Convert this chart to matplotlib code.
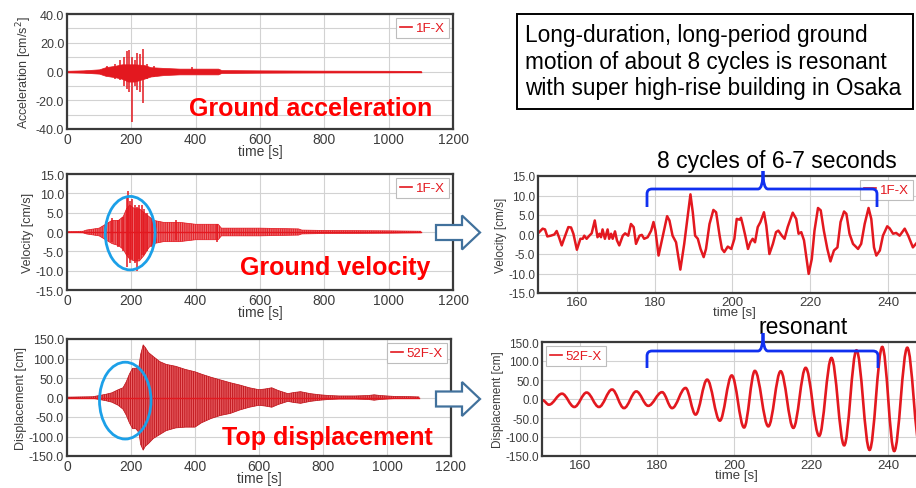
import matplotlib
matplotlib.use("Agg")
import matplotlib.pyplot as plt
from matplotlib.patches import Ellipse, Polygon, Rectangle, PathPatch
from matplotlib.path import Path
from matplotlib.ticker import MultipleLocator, FormatStrFormatter

plt.rcParams['font.family'] = ['Liberation Sans', 'DejaVu Sans']
plt.rcParams['hatch.linewidth'] = 0.6

# ---------------- data ----------------
# Ground acceleration envelope (1F-X)
acc_t  = [0, 50, 100, 120, 150, 170, 190, 210, 240, 260, 300, 350, 400, 470, 480, 600, 800, 1000, 1100]
acc_hi = [0.5, 0.8, 1.5, 3, 4, 5, 5, 5, 4.5, 3, 2.5, 2, 2, 2, 1, 0.8, 0.6, 0.5, 0.4]
acc_lo = [-0.5, -0.8, -1.5, -3, -4, -5, -7, -7, -5, -3.5, -2.5, -2, -2, -2, -1, -0.8, -0.6, -0.5, -0.4]
acc_spk_t  = [124, 150, 166, 178, 186, 194, 202, 212, 219, 228, 236, 248, 269, 388]
acc_spk_hi = [4, 5, 8, 10, 14, 15, 10, 8, 13, 12, 16, 5, 4, 3]
acc_spk_lo = [-3, -5, -6, -10, -12, -14, -35, -10, -13, -14, -22, -5, -4, -2]

# Ground velocity envelope (1F-X)
vel_t  = [0, 50, 60, 100, 120, 140, 160, 175, 185, 195, 210, 225, 240, 255, 270, 300, 350, 400, 450, 470, 480, 600, 720, 730, 800, 1000, 1100]
vel_hi = [0.1, 0.2, 0.5, 1, 2, 3, 3, 4, 6, 7, 6, 6, 5, 4, 3, 2.5, 2.5, 2, 2, 2, 1, 1, 0.8, 0.5, 0.4, 0.3, 0.2]
vel_lo = [-0.1, -0.2, -0.5, -1, -2, -3, -3.5, -4.5, -6, -7, -7.5, -7.5, -6, -4, -3, -2.5, -2.5, -2, -2, -2, -1, -1, -0.8, -0.5, -0.4, -0.3, -0.2]
vel_spk_t  = [140, 160, 175, 186, 189, 196, 202, 210, 217, 225, 233, 240, 248, 265, 340, 465]
vel_spk_hi = [3.5, 3, 4, 9, 10.5, 8, 8.5, 7, 6.5, 7, 7, 6, 5, 3.5, 3, 2]
vel_spk_lo = [-2.5, -4, -5, -9, -6, -8, -7, -8, -10, -7, -6, -6, -5, -4, -2, -2.5]

# Top displacement envelope (52F-X)
dis_t  = [0, 80, 100, 120, 140, 160, 175, 185, 195, 205, 215, 225, 230, 238, 245, 255, 270, 290, 310, 340, 370, 400,
          420, 450, 480, 510, 540, 570, 600, 620, 640, 660, 690, 710, 730, 760, 790, 820, 850, 900, 940, 960, 980,
          1020, 1060, 1100]
dis_hi = [1, 2, 5, 8, 12, 20, 25, 40, 60, 75, 75, 80, 110, 135, 128, 115, 105, 92, 85, 80, 72, 66,
          60, 52, 45, 38, 32, 25, 20, 22, 25, 18, 10, 13, 15, 10, 7, 5, 4, 4, 5, 7, 5,
          3, 2.5, 1.5]
dis_lo = [-1, -2, -5, -8, -12, -20, -30, -45, -65, -80, -80, -90, -120, -135, -125, -118, -105, -95, -85, -78, -76, -76,
          -65, -54, -46, -41, -32, -25, -20, -22, -25, -18, -10, -13, -15, -10, -7, -5, -4, -4, -5, -7, -5,
          -3, -2.5, -1.5]

# Zoomed ground velocity 150-250 s
zv_t = [150.1, 151.2, 151.8, 152.4, 153.3, 154.2, 154.8, 155.4, 156.1, 156.7, 157.8, 158.5, 159.1, 160.0, 160.9,
        161.5, 161.9, 162.5, 163.2, 163.8, 164.6, 165.3, 165.8, 166.2, 166.6, 167.2, 167.9, 168.3, 168.8, 169.2,
        169.8, 170.3, 170.9, 171.8, 172.4, 173.2, 173.9, 174.6, 175.2, 176.1, 176.7, 177.3, 178.2, 179.1, 179.7,
        180.2, 181.0, 182.1, 183.2, 183.8, 184.6, 185.5, 186.6, 187.6, 189.2, 189.8, 190.4, 191.1, 191.8, 192.6,
        193.2, 194.1, 195.1, 195.8, 196.7, 197.3, 197.9, 198.8, 199.7, 200.5, 201.1, 201.8, 202.2, 202.7, 203.3,
        204.0, 204.6, 205.2, 205.8, 206.5, 207.2, 208.1, 208.7, 209.5, 210.4, 211.2, 211.8, 212.7, 213.4, 214.2,
        215.5, 216.4, 217.0, 217.7, 218.4, 219.6, 220.4, 221.1, 222.0, 222.7, 223.5, 224.4, 225.2, 226.1, 227.0,
        227.8, 228.7, 229.3, 230.1, 231.0, 232.3, 233.1, 234.0, 235.0, 235.7, 236.4, 237.0, 237.9, 238.7, 239.8,
        240.4, 241.3, 242.1, 243.0, 244.3, 245.2, 246.4, 247.5, 249.0, 250.8]
zv_v = [0.4, 1.5, 1.3, -0.5, -0.3, 0.0, 0.9, -0.7, -2.8, -1.1, 1.9, 1.8, 0.2, -3.9, -1.1,
        -1.1, -0.3, -1.1, -0.3, 0.3, 3.6, -0.7, 0.2, -0.7, 1.3, -1.1, 1.3, -1.1, 0.2, -1.1,
        0.8, -1.5, -2.8, -0.3, 0.3, -0.3, 2.7, 1.9, -2.4, -0.3, -0.1, -1.1, -0.7, 1.0, 3.2,
        1.0, -5.4, -0.3, 4.7, 3.6, -0.3, -2.0, -9.0, -2.4, 10.3, 5.7, -0.3, -1.1, -3.7, -5.8,
        -3.7, 2.7, 6.3, 5.7, -0.3, -3.7, -4.5, -3.1, -3.7, -1.1, 4.0, 3.8, 4.3, 2.3, -0.3,
        -3.7, -2.0, -1.1, -2.0, 1.9, 3.2, 5.7, 2.3, -5.0, -2.4, 0.6, 1.0, -0.3, -1.1, 1.9,
        5.6, 4.0, 0.2, 0.6, -1.5, -10.1, -6.3, 1.0, 6.8, 6.2, 1.0, -3.7, -6.9, -4.1, -3.3,
        3.2, 5.9, 5.3, 0.2, -2.4, -3.7, -2.4, 2.7, 6.8, 4.0, -3.3, -5.4, -4.1, -0.3, 2.1,
        1.6, 0.2, 0.4, -0.3, 1.5, -0.3, -3.3, -2.0, 0.5, 1.0]

# Zoomed top displacement 150-250 s (turning points)
zd_t = [150.2, 151.8, 155.2, 158.4, 161.6, 164.8, 168.2, 171.3, 174.5, 177.6, 181.2, 183.8, 187.3, 189.9, 192.9,
        196.2, 199.3, 202.5, 205.3, 208.8, 212.0, 215.3, 218.5, 222.0, 225.2, 228.5, 231.7, 235.1, 238.4, 241.5,
        244.9, 248.2]
zd_d = [-3.5, -15, 14, -21, 17, -21, 25, -24, 20, -18, 18, -24, 29, -41, 51,
        -57, 62, -75, 74, -72, 73, -76, 82, -97, 108, -122, 128, -134, 137, -137,
        135, -130]

# ---------------- layout helpers ----------------
W, H = 916, 489
fig = plt.figure(figsize=(W / 100, H / 100), dpi=100)


def rect(l, r, t, b):
    return [l / W, 1 - b / H, (r - l) / W, (b - t) / H]


def fp(x, y):
    return (x / W, 1 - y / H)


RED = '#E3181F'
GRID = '#d2d2d2'
SPINE = '#3a3a3a'
TXT = '#3c3c3c'


def style(ax, xfs=10, yfs=9):
    for s in ax.spines.values():
        s.set_color(SPINE)
        s.set_linewidth(1.6)
    ax.tick_params(length=0, pad=2, colors=TXT)
    ax.tick_params(axis='x', labelsize=xfs)
    ax.tick_params(axis='y', labelsize=yfs)
    ax.grid(True, which='both', color=GRID, lw=0.8)
    ax.set_axisbelow(True)
    ax.yaxis.set_major_formatter(FormatStrFormatter('%.1f'))


def legend(ax, label, **kw):
    lg = ax.legend([plt.Line2D([], [], color=RED, lw=1.2)], [label], handlelength=0.9,
                   handletextpad=0.3, borderpad=0.3, fontsize=9.5, fancybox=False,
                   framealpha=1, edgecolor='#bdbdbd', labelcolor=RED, **kw)
    lg.get_frame().set_linewidth(0.8)
    return lg


# ---------------- left column ----------------
ax1 = fig.add_axes(rect(67, 453, 15, 130))
ax2 = fig.add_axes(rect(67, 453, 175, 291))
ax3 = fig.add_axes(rect(67, 451, 340, 457))

for ax in (ax1, ax2, ax3):
    ax.set_xlim(0, 1200)
    ax.xaxis.set_major_locator(MultipleLocator(200))
    style(ax)
    ax.set_xlabel('time [s]', fontsize=10, color=TXT, labelpad=-1)

ax1.fill_between(acc_t, acc_lo, acc_hi, color=RED, lw=0.5)
ax1.vlines(acc_spk_t, acc_spk_lo, acc_spk_hi, color=RED, lw=1.1)
ax1.plot([acc_t[0], acc_t[-1]], [0, 0], color=RED, lw=1.0)
ax1.set_ylim(-40, 40)
ax1.yaxis.set_major_locator(MultipleLocator(20))
ax1.yaxis.set_minor_locator(MultipleLocator(10))
ax1.tick_params(which='minor', length=0)
ax1.set_ylabel('Acceleration [cm/s$^2$]', fontsize=9, color=TXT, labelpad=1)
legend(ax1, '1F-X', loc='upper right', borderaxespad=0.3)

ax2.fill_between(vel_t, vel_lo, vel_hi, fc='#EE7276', ec='#E3181F', lw=0.5, hatch='|||||||||')
ax2.vlines(vel_spk_t, vel_spk_lo, vel_spk_hi, color=RED, lw=1.1)
ax2.plot([vel_t[0], vel_t[-1]], [0, 0], color=RED, lw=1.0)
ax2.set_ylim(-15, 15)
ax2.yaxis.set_major_locator(MultipleLocator(5))
ax2.set_ylabel('Velocity [cm/s]', fontsize=9, color=TXT, labelpad=1)
legend(ax2, '1F-X', loc='upper right', borderaxespad=0.3)
ax2.add_patch(Ellipse((196.5, -0.3), 155, 19, fill=False, ec='#1CA0E8', lw=2, clip_on=False, zorder=5))

ax3.fill_between(dis_t, dis_lo, dis_hi, fc='#EA6266', ec='#BE1219', lw=0.5, hatch='|||||||||')
ax3.plot([dis_t[0], dis_t[-1]], [0, 0], color=RED, lw=1.0)
ax3.set_ylim(-150, 150)
ax3.yaxis.set_major_locator(MultipleLocator(50))
ax3.set_ylabel('Displacement [cm]', fontsize=9, color=TXT, labelpad=1)
legend(ax3, '52F-X', loc='upper right', borderaxespad=0.3)
ax3.add_patch(Ellipse((182, -8), 161, 197, fill=False, ec='#1CA0E8', lw=2, clip_on=False, zorder=5))

# ---------------- right column ----------------
ax4 = fig.add_axes(rect(538, 930, 177, 294))
ax5 = fig.add_axes(rect(542, 930, 343, 457))
for ax in (ax4, ax5):
    ax.set_xlim(150, 250.8)
    ax.xaxis.set_major_locator(MultipleLocator(20))
    style(ax, xfs=9.5, yfs=8.5)
    ax.set_xlabel('time [s]', fontsize=9.5, color=TXT, labelpad=-1)

ax4.plot(zv_t, zv_v, color=RED, lw=1.8, solid_joinstyle='round')
ax4.set_ylim(-15, 15)
ax4.yaxis.set_major_locator(MultipleLocator(5))
ax4.set_ylabel('Velocity [cm/s]', fontsize=8.5, color=TXT, labelpad=1)
legend(ax4, '1F-X', loc='upper right', bbox_to_anchor=(0.957, 0.97), borderaxespad=0)

# smooth curve through the displacement turning points
verts = [(zd_t[0], zd_d[0])]
codes = [Path.MOVETO]
for i in range(1, len(zd_t)):
    dt = zd_t[i] - zd_t[i - 1]
    verts += [(zd_t[i - 1] + 0.36 * dt, zd_d[i - 1]), (zd_t[i] - 0.36 * dt, zd_d[i]), (zd_t[i], zd_d[i])]
    codes += [Path.CURVE4] * 3
ax5.add_patch(PathPatch(Path(verts, codes), fill=False, ec=RED, lw=1.9))
ax5.set_ylim(-150, 150)
ax5.yaxis.set_major_locator(MultipleLocator(50))
ax5.set_ylabel('Displacement [cm]', fontsize=8.5, color=TXT, labelpad=1)
legend(ax5, '52F-X', loc='upper left', borderaxespad=0.3)

# ---------------- annotations ----------------
fig.text(*fp(311, 116), 'Ground acceleration', color='#FF0000', fontsize=18, fontweight='bold',
         ha='center', va='baseline')
fig.text(*fp(335, 275), 'Ground velocity', color='#FF0000', fontsize=18, fontweight='bold',
         ha='center', va='baseline')
fig.text(*fp(327, 445), 'Top displacement', color='#FF0000', fontsize=18, fontweight='bold',
         ha='center', va='baseline')

# info box
fig.patches.append(Rectangle(fp(517, 110), (913 - 517) / W, (110 - 15) / H, transform=fig.transFigure,
                             fill=False, ec='black', lw=1.4))
fig.text(*fp(525, 62), 'Long-duration, long-period ground\nmotion of about 8 cycles is resonant\n'
         'with super high-rise building in Osaka', fontsize=16.3, ha='left', va='center',
         linespacing=1.2, color='black')

fig.text(*fp(777, 168), '8 cycles of 6-7 seconds', fontsize=16.5, ha='center', va='baseline', color='black')
fig.text(*fp(803, 334), 'resonant', fontsize=16.5, ha='center', va='baseline', color='black')


def brace(xl, xr, xm, ybot, yline, ytip):
    r = 5
    pts = [fp(xl, ybot), fp(xl, yline + r), fp(xl, yline), fp(xl + r, yline),
           fp(xm - r, yline), fp(xm, yline), fp(xm, ytip),
           fp(xm, yline), fp(xm + r, yline),
           fp(xr - r, yline), fp(xr, yline), fp(xr, yline + r), fp(xr, ybot)]
    cds = [Path.MOVETO, Path.LINETO, Path.CURVE3, Path.CURVE3,
           Path.LINETO, Path.CURVE3, Path.CURVE3,
           Path.CURVE3, Path.CURVE3,
           Path.LINETO, Path.CURVE3, Path.CURVE3, Path.LINETO]
    fig.patches.append(PathPatch(Path(pts, cds), transform=fig.transFigure, fill=False,
                                 ec='#1030F0', lw=2, zorder=10))


brace(647, 877, 763, 208, 190, 172)
brace(647, 878, 763, 369, 352, 334)


def block_arrow(x0, xh, xt, yc, hs, hh):
    pts = [fp(x0, yc - hs), fp(xh, yc - hs), fp(xh, yc - hh), fp(xt, yc),
           fp(xh, yc + hh), fp(xh, yc + hs), fp(x0, yc + hs)]
    fig.patches.append(Polygon(pts, closed=True, transform=fig.transFigure, fc='white',
                               ec='#41719C', lw=1.6, zorder=10))


block_arrow(436, 462, 480, 233.5, 7.5, 17)
block_arrow(436, 462, 480, 400, 7.5, 17)

fig.savefig('out.png', dpi=100, facecolor='white')
